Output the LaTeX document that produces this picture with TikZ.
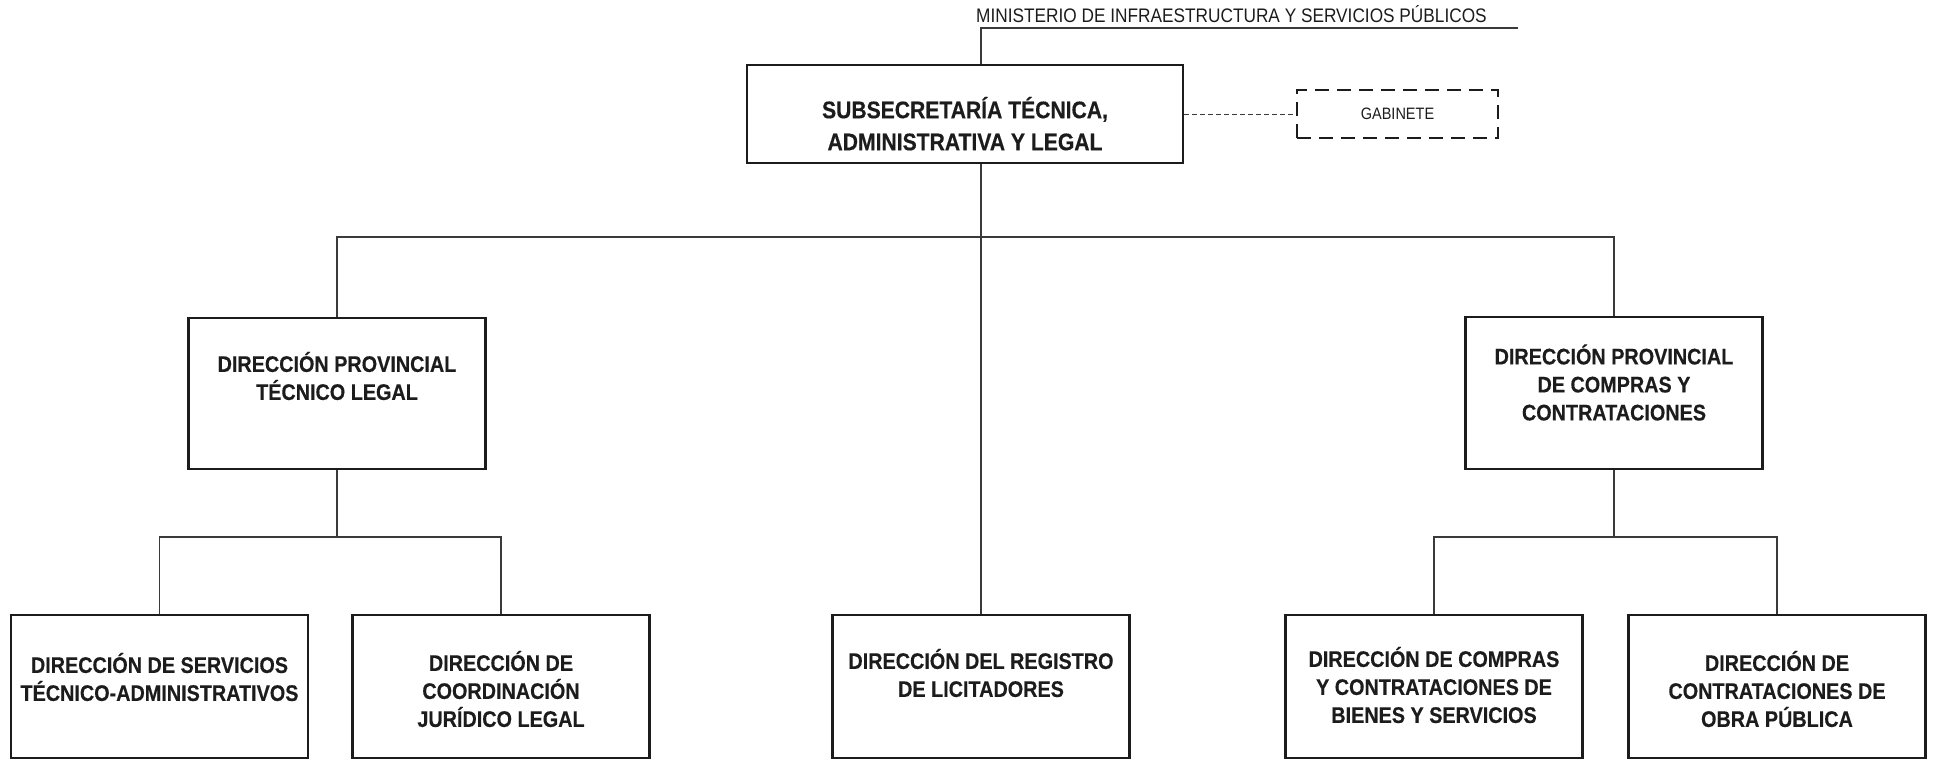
\documentclass[tikz,border=0pt]{standalone}
\usepackage{fontspec}
\setmainfont{Liberation Sans}[FakeStretch=0.88, BoldFeatures={FakeBold=0.4}]
\usetikzlibrary{positioning}

\definecolor{borde}{HTML}{1C1C1C}
\definecolor{linea}{HTML}{3A3A3A}

\tikzset{
    caja/.style={draw=borde, line width=2.5pt, inner sep=0pt, minimum width=297pt},
    titulo/.style={inner sep=0pt, align=center, text=borde, font=\bfseries\fontsize{22.5}{28}\selectfont},
    conector/.style={draw=linea, line width=1.3pt},
}

\begin{document}
\begin{tikzpicture} [x=1pt, y=-1pt]
            \useasboundingbox (0,0) rectangle (1935,760);

            % cabecera
            \node (min) [anchor=base west, inner sep=0pt, text=borde, font=\fontsize{19.6}{22}\selectfont] at (976,23) {MINISTERIO DE INFRAESTRUCTURA Y SERVICIOS PÚBLICOS};
            \coordinate (minl) at (981,28);
            \coordinate (minr) at (1518,28);

            \node (sub) [caja, minimum width=436pt, minimum height=98pt] at (965,114) {};
            \node (sub-t) [titulo, font=\bfseries\fontsize{24}{32}\selectfont, below=33pt of sub.north] {SUBSECRETARÍA TÉCNICA,\\ADMINISTRATIVA Y LEGAL};

            \node (gab) [caja, dash pattern=on 14pt off 8pt, minimum width=201pt, minimum height=48pt, font=\fontsize{16.5}{20}\selectfont, text=borde] at (1397.5,114) {GABINETE};

            % direcciones provinciales
            \node (dpt) [caja, minimum height=151pt] at (337,393.5) {};
            \node (dpt-t) [titulo, below=35pt of dpt.north] {DIRECCIÓN PROVINCIAL\\TÉCNICO LEGAL};

            \node (dpc) [caja, minimum height=152pt] at (1614,393) {};
            \node (dpc-t) [titulo, below=28.5pt of dpc.north] {DIRECCIÓN PROVINCIAL\\DE COMPRAS Y\\CONTRATACIONES};

            % direcciones
            \node (srv) [caja, minimum height=143pt] at (159.5,686.5) {};
            \node (srv-t) [titulo, below=39pt of srv.north] {DIRECCIÓN DE SERVICIOS\\TÉCNICO-ADMINISTRATIVOS};

            \node (jur) [caja, minimum height=143pt] at (501,686.5) {};
            \node (jur-t) [titulo, below=37pt of jur.north] {DIRECCIÓN DE\\COORDINACIÓN\\JURÍDICO LEGAL};

            \node (reg) [caja, minimum height=143pt] at (981,686.5) {};
            \node (reg-t) [titulo, below=35pt of reg.north] {DIRECCIÓN DEL REGISTRO\\DE LICITADORES};

            \node (bys) [caja, minimum height=143pt] at (1434,686.5) {};
            \node (bys-t) [titulo, below=33pt of bys.north] {DIRECCIÓN DE COMPRAS\\Y CONTRATACIONES DE\\BIENES Y SERVICIOS};

            \node (obr) [caja, minimum height=143pt] at (1777,686.5) {};
            \node (obr-t) [titulo, below=37pt of obr.north] {DIRECCIÓN DE\\CONTRATACIONES DE\\OBRA PÚBLICA};

            % lineas
            \coordinate (bus) at (981,237);
            \coordinate (busl) at (337,537);
            \coordinate (busr) at (1614,537);

            \draw[conector] (minr) -- (minl) -- (minl |- sub.north);
            \draw[conector] (minl |- sub.south) -- (reg.north);
            \draw[conector] (dpt.north) |- (bus) -| (dpc.north);
            \draw[conector, line width=1pt, dash pattern=on 5pt off 3pt] (sub.east) -- (gab.west);

            \draw[conector] (dpt.south) -- (busl);
            \draw[conector] (srv.north) |- (busl) -| (jur.north);
            \draw[conector] (dpc.south) -- (busr);
            \draw[conector] (bys.north) |- (busr) -| (obr.north);
        \end{tikzpicture}
\end{document}
